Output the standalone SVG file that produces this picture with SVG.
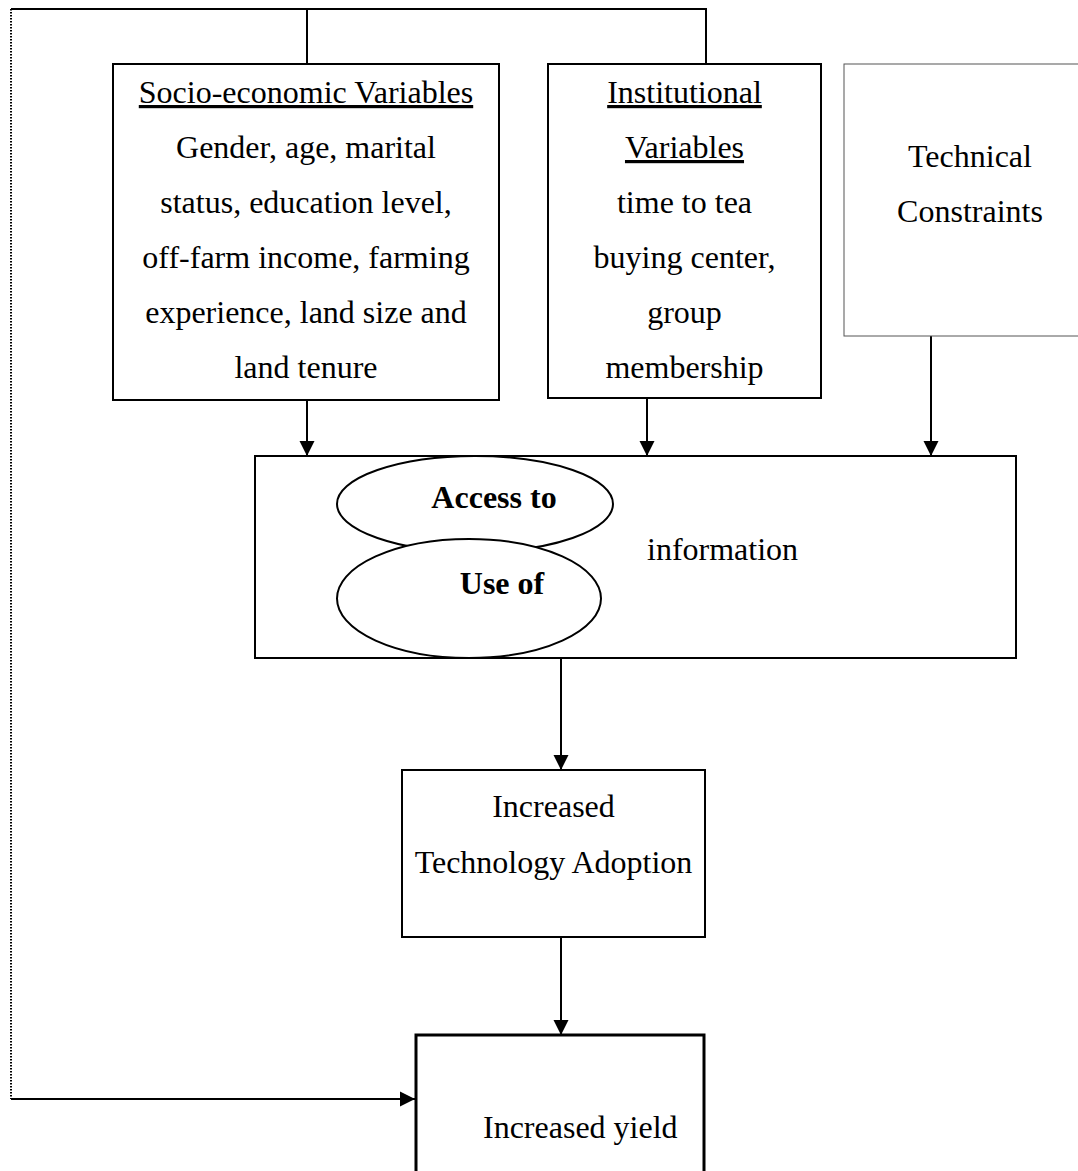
<svg xmlns="http://www.w3.org/2000/svg" width="1078" height="1171" viewBox="0 0 1078 1171">
<style>
text{font-family:"Liberation Serif","Times New Roman",serif;font-size:32px;fill:#000}
.c{text-anchor:middle}
.u{text-decoration:underline}
.b{font-weight:bold}
.box{fill:#fff;stroke:#000;stroke-width:2}
.ln{fill:none;stroke:#000;stroke-width:2}
</style>
<defs>
<marker id="ah" markerUnits="userSpaceOnUse" markerWidth="16" markerHeight="16" viewBox="0 0 16 16" refX="15" refY="8" orient="auto">
<path d="M0,0.5 L15,8 L0,15.5 Z" fill="#000"/>
</marker>
</defs>
<g id="connectors">
<polyline class="ln" points="11,9 706,9 706,64"/>
<line class="ln" x1="307" y1="9" x2="307" y2="64"/>
<line x1="11" y1="9" x2="11" y2="1099" stroke="#000" stroke-width="2" stroke-dasharray="1.5,1.5"/>
<line class="ln" x1="11" y1="1099" x2="415" y2="1099" marker-end="url(#ah)"/>
<line class="ln" x1="307" y1="400" x2="307" y2="456" marker-end="url(#ah)"/>
<line class="ln" x1="647" y1="398" x2="647" y2="456" marker-end="url(#ah)"/>
<line class="ln" x1="931" y1="331" x2="931" y2="456" marker-end="url(#ah)"/>
<line class="ln" x1="561" y1="658" x2="561" y2="770" marker-end="url(#ah)"/>
<line class="ln" x1="561" y1="937" x2="561" y2="1035" marker-end="url(#ah)"/>
</g>
<g id="socio">
<rect class="box" x="113" y="64" width="386" height="336"/>
<text class="c u" x="306" y="103">Socio-economic Variables</text>
<text class="c" x="306" y="158">Gender, age, marital</text>
<text class="c" x="306" y="213">status, education level,</text>
<text class="c" x="306" y="268">off-farm income, farming</text>
<text class="c" x="306" y="323">experience, land size and</text>
<text class="c" x="306" y="378">land tenure</text>
</g>
<g id="institutional">
<rect class="box" x="548" y="64" width="273" height="334"/>
<text class="c u" x="684.5" y="103">Institutional</text>
<text class="c u" x="684.5" y="158">Variables</text>
<text class="c" x="684.5" y="213">time to tea</text>
<text class="c" x="684.5" y="268">buying center,</text>
<text class="c" x="684.5" y="323">group</text>
<text class="c" x="684.5" y="378">membership</text>
</g>
<g id="technical">
<rect x="844" y="64" width="260" height="272" fill="#fff" stroke="#555" stroke-width="1"/>
<text class="c" x="970" y="167">Technical</text>
<text class="c" x="970" y="222">Constraints</text>
</g>
<g id="information">
<rect class="box" x="255" y="456" width="761" height="202"/>
<ellipse cx="475" cy="504" rx="138" ry="48" fill="#fff" stroke="#000" stroke-width="2"/>
<text class="c b" x="494" y="508">Access to</text>
<ellipse cx="469" cy="598.5" rx="132" ry="59.5" fill="#fff" stroke="#000" stroke-width="2"/>
<text class="c b" x="502" y="594">Use of</text>
<text x="647" y="560">information</text>
</g>
<g id="adoption">
<rect class="box" x="402" y="770" width="303" height="167"/>
<text class="c" x="553.5" y="817">Increased</text>
<text class="c" x="553.5" y="873">Technology Adoption</text>
</g>
<g id="yield">
<rect x="416" y="1035" width="288" height="140" fill="#fff" stroke="#000" stroke-width="3"/>
<text x="483" y="1138">Increased yield</text>
</g>
</svg>
